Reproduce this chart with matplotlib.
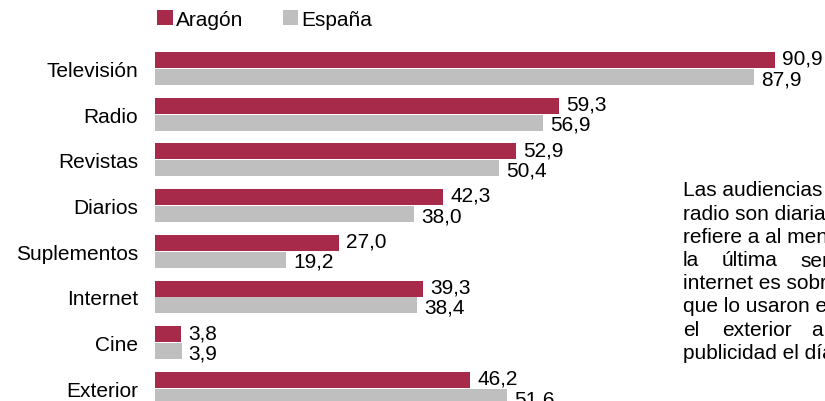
import matplotlib
matplotlib.use("Agg")
import matplotlib.pyplot as plt
import numpy as np

categorias = ["Televisión", "Radio", "Revistas", "Diarios", "Suplementos", "Internet", "Cine", "Exterior"]
aragon = [90.9, 59.3, 52.9, 42.3, 27.0, 39.3, 3.8, 46.2]
espana = [87.9, 56.9, 50.4, 38.0, 19.2, 38.4, 3.9, 51.6]

col_aragon = "#A82A4A"
col_espana = "#BFBFBF"

plt.rcParams["font.family"] = ["Liberation Sans", "DejaVu Sans"]
fs = 15

fig = plt.figure(figsize=(8.25, 4.02), dpi=100)
# axes runs past the bottom edge, like the cropped original
ax = fig.add_axes([155 / 825, 1 - 435.1 / 402, 682 / 825, (435.1 - 23.8) / 402])

y = np.arange(len(categorias))
h = 0.35
b1 = ax.barh(y - 0.185, aragon, height=h, color=col_aragon, label="Aragón")
b2 = ax.barh(y + 0.185, espana, height=h, color=col_espana, label="España")

def fmt(v):
    return f"{v:.1f}".replace(".", ",")

# value labels, nudged apart a little like the original
for yi, v in zip(y - 0.185, aragon):
    ax.annotate(fmt(v), (v, yi), xytext=(5, 1.2), textcoords="offset points",
                va="center", ha="left", fontsize=fs)
for yi, v in zip(y + 0.185, espana):
    ax.annotate(fmt(v), (v, yi), xytext=(5, -1.2), textcoords="offset points",
                va="center", ha="left", fontsize=fs)

ax.set_xlim(0, 100)
ax.set_ylim(8, -1)
ax.set_yticks(y)
ax.set_yticklabels(categorias, fontsize=fs)
ax.tick_params(axis="y", length=0, pad=12)
ax.set_xticks([])
for s in ax.spines.values():
    s.set_visible(False)

fig.legend(handles=[b1, b2], loc="upper left", bbox_to_anchor=(157 / 825, 1 - 11 / 402),
           ncol=2, frameon=False, fontsize=fs, handlelength=0.75, handleheight=0.75,
           handletextpad=0.15, columnspacing=1.9, borderpad=0, borderaxespad=0)

# side note, cut off by the right edge in the original
nota = [
    ["Las audiencias de televisión y"],
    ["radio son diarias, la de revistas se"],
    ["refiere a al menos una lectura en"],
    ["la", "última", "semana;"],
    ["internet es sobre usuarios"],
    ["que lo usaron el día anterior y"],
    ["el", "exterior", "a"],
    ["publicidad el día anterior."],
]
xs_just = {3: [683, 722, 800], 6: [683, 722, 811]}
y0 = 191
for i, linea in enumerate(nota):
    yy = 1 - (y0 + i * 23.2) / 402
    xs = xs_just.get(i, [683])
    for x, w in zip(xs, linea):
        fig.text(x / 825, yy, w, fontsize=fs, va="center", ha="left", clip_on=True)

fig.savefig("out.png", dpi=100)
